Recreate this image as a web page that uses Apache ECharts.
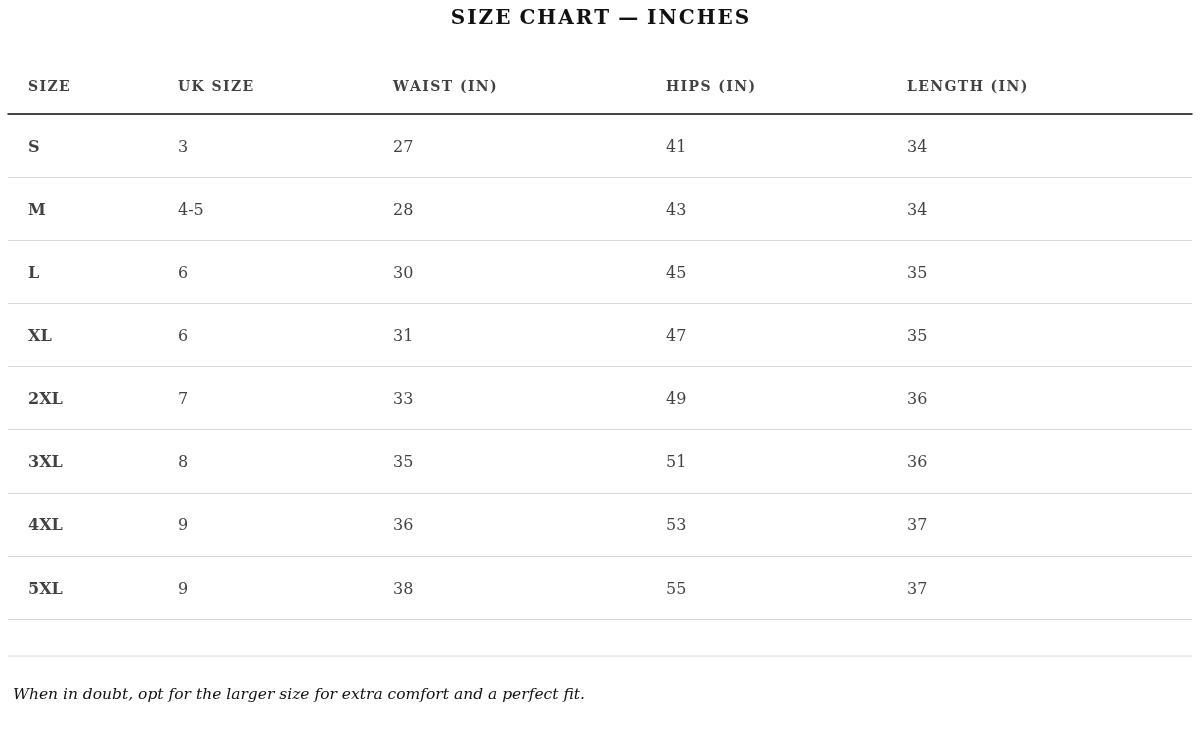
<!DOCTYPE html><html><head><meta charset="utf-8"><script src="https://cdn.jsdelivr.net/npm/echarts@6/dist/echarts.min.js"></script>
<style>html,body{margin:0;background:#fff}#c{width:1200px;height:729px}</style></head><body><div id="c"></div><script>
const headers=['SIZE','UK SIZE','WAIST (IN)','HIPS (IN)','LENGTH (IN)'];
const sizes=['S','M','L','XL','2XL','3XL','4XL','5XL'];
const ukSize=['3','4-5','6','6','7','8','9','9'];
const waist=[27,28,30,31,33,35,36,38];
const hips=[41,43,45,47,49,51,53,55];
const length=[34,34,35,35,36,36,37,37];
const colX=[28,178,393,666,907];
const cols=[sizes,ukSize,waist,hips,length];
const F='DejaVu Serif';
const series=cols.map((col,ci)=>({type:'scatter',xAxisIndex:0,yAxisIndex:0,symbolSize:0,silent:true,
 data:col.map((v,ri)=>[colX[ci],ri,v]),
 label:{show:true,position:'right',distance:0,offset:[0,2],formatter:p=>String(p.data[2]),fontFamily:F,fontSize:16,fontWeight:ci===0?'bold':'normal',color:'#111'}}));
series.push({type:'scatter',xAxisIndex:1,yAxisIndex:1,symbolSize:0,silent:true,
 data:headers.map((h,i)=>[colX[i],0,h]),
 label:{show:true,position:'right',distance:0,formatter:p=>p.data[2].split('').join('\u200A'),fontFamily:F,fontSize:14,fontWeight:'bold',color:'#111'}});
const chart=echarts.init(document.getElementById('c'));
chart.setOption({animation:false,
 title:[{text:'S I Z E  C H A R T  —  I N C H E S'.replace(/ (?! )/g,'\u200A'),left:'center',top:4,textStyle:{fontFamily:F,fontSize:20,fontWeight:'bold',color:'#111'}},
  {text:'When in doubt, opt for the larger size for extra comfort and a perfect fit.',left:8,top:682,textStyle:{fontFamily:F,fontSize:15.5,fontStyle:'italic',fontWeight:'normal',color:'#111'}}],
 grid:[{left:8,right:8,top:114,height:505},{left:8,right:8,top:60,height:54}],
 xAxis:[{type:'value',min:8,max:1192,gridIndex:0,position:'top',axisLine:{show:true,lineStyle:{color:'#111',width:1.5}},axisTick:{show:false},axisLabel:{show:false},splitLine:{show:false}},
  {type:'value',min:8,max:1192,gridIndex:1,show:false}],
 yAxis:[{type:'category',gridIndex:0,inverse:true,data:sizes,axisLine:{show:false},axisTick:{show:false},axisLabel:{show:false},splitLine:{show:true,lineStyle:{color:'#d8d8d8'}}},
  {type:'category',gridIndex:1,data:['h'],show:false}],
 graphic:[{type:'line',shape:{x1:8,y1:656,x2:1192,y2:656},style:{stroke:'#d8d8d8',lineWidth:1}}],
 series});
</script></body></html>
